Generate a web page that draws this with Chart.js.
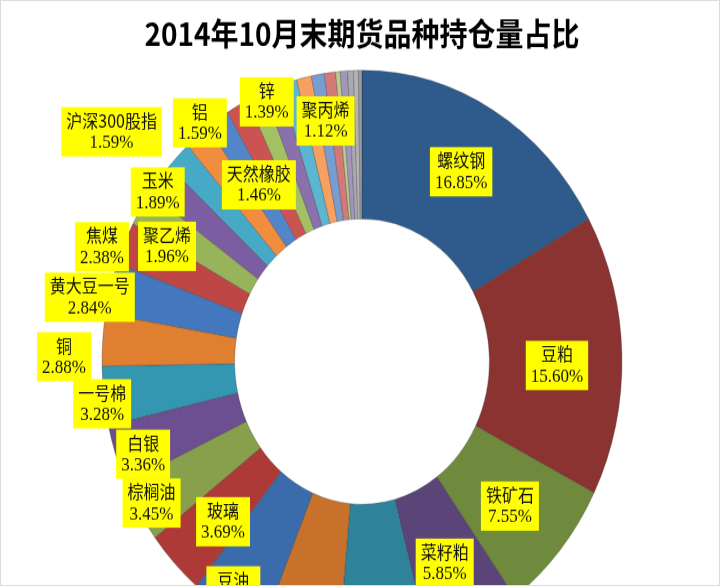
<!DOCTYPE html>
<html>
<head>
<meta charset="utf-8">
<script src="https://cdn.jsdelivr.net/npm/chart.js"></script>
<style>
  html, body { margin: 0; padding: 0; background: #fff; }
  #wrap { position: relative; width: 720px; height: 586px; overflow: hidden; background: #fff; }
  /* the source picture is stretched vertically, so the canvas is too */
  #myChart { position: absolute; left: 0; top: 0; transform-origin: 0 0; transform: scaleY(1.12); }
  #frame { position: absolute; left: 0; top: 0; right: 0; bottom: 0; border: 1px solid #dcdcdc; box-sizing: border-box; pointer-events: none; }
</style>
</head>
<body>
<div id="wrap">
  <canvas id="myChart" width="720" height="590"></canvas>
  <div id="frame"></div>
</div>
<script>
const title = '2014年10月末期货品种持仓量占比';

// names that cannot be read in the picture are left empty
const labels = [
  '螺纹钢', '豆粕', '铁矿石', '菜籽粕', '', '', '豆油', '玻璃', '棕榈油', '白银',
  '一号棉', '铜', '黄大豆一号', '焦煤', '聚乙烯', '玉米', '沪深300股指', '铝', '天然橡胶', '锌',
  '聚丙烯', '', '', '', '', '', '', '', '', '', ''
];
const shares = [
  16.85, 15.60, 7.55, 5.85, 5.62, 4.85, 4.66, 3.69, 3.45, 3.36,
  3.28, 2.88, 2.84, 2.38, 1.96, 1.89, 1.59, 1.59, 1.46, 1.39,
  1.12, 1.08, 1.02, 0.92, 0.80, 0.70, 0.28, 0.46, 0.36, 0.30, 0.22
];

const colors = [
  '#2e5b8c', '#8a3331', '#6f8a3d', '#5a4478', '#2e8299', '#c8712a', '#3a6bab', '#ae3a38', '#88a04b', '#6b4f91',
  '#3497b1', '#e07f2f', '#4478be', '#be4644', '#97b45a', '#7b5ea2', '#46a9c5', '#f08d3e', '#5385c8', '#cb5452',
  '#a3c163', '#8a70ac', '#5cb6cf', '#f8a060', '#7a9dd0', '#d27a78', '#b9ce8c', '#a195bb', '#a9a9b0', '#b4b4b4', '#9c9c9c'
];

// label box placement: [radius factor, angle nudge in degrees]
const labelPlace = [
  [0.755, 0], [0.75, 2.3], [0.755, 0.7], [0.762, 0.8], null, null, [0.93, 1], [0.767, -2], [0.944, 0], [0.90, -2],
  [1.01, -1.5], [1.146, -3.5], [1.07, -2.7], [1.075, -2.5], [0.848, -4], [0.978, -2.2], [1.245, -5.7], [1.03, 2], [0.725, 0.6], [0.964, 6.3],
  [0.838, 14.5]
];

const nameFont = '16px "Noto Sans CJK SC", "Liberation Serif"';
const pctFont = '17px "Liberation Serif", "Noto Sans CJK SC"';

const boxLabels = {
  id: 'boxLabels',
  afterDatasetsDraw(chart) {
    const ctx = chart.ctx;
    const meta = chart.getDatasetMeta(0);
    meta.data.forEach((arc, i) => {
      const place = labelPlace[i];
      if (!place || !labels[i]) return;
      const { x, y, startAngle, endAngle, outerRadius } =
        arc.getProps(['x', 'y', 'startAngle', 'endAngle', 'outerRadius'], true);
      const a = (startAngle + endAngle) / 2 + place[1] * Math.PI / 180;
      const cx = x + Math.cos(a) * outerRadius * place[0];
      const cy = y + Math.sin(a) * outerRadius * place[0];
      const line1 = labels[i];
      const line2 = shares[i].toFixed(2) + '%';

      ctx.save();
      ctx.font = nameFont;
      const w1 = ctx.measureText(line1).width;
      ctx.font = pctFont;
      const w2 = ctx.measureText(line2).width;
      const w = Math.max(w1, w2) + 10;
      const h = 44;
      ctx.fillStyle = '#ffff00';
      ctx.fillRect(cx - w / 2, cy - h / 2, w, h);
      ctx.fillStyle = '#111';
      ctx.textAlign = 'center';
      ctx.textBaseline = 'middle';
      ctx.font = nameFont;
      ctx.fillText(line1, cx, cy - 10);
      ctx.font = pctFont;
      ctx.fillText(line2, cx, cy + 10);
      ctx.restore();
    });
  }
};

const ctx = document.getElementById('myChart');

new Chart(ctx, {
  type: 'doughnut',
  data: {
    labels,
    datasets: [
      {
        data: shares,
        backgroundColor: colors,
        borderColor: 'rgba(40,40,40,0.35)',
        borderWidth: 0.8,
      },
    ],
  },
  options: {
    responsive: false,
    animation: false,
    devicePixelRatio: 1,
    radius: 260,
    cutout: '49%',
    layout: { padding: { left: 4, bottom: 2 } },
    plugins: {
      legend: { display: false },
      tooltip: { enabled: false },
      title: {
        display: true,
        text: title,
        color: '#000',
        font: { family: '"Noto Sans CJK SC"', size: 28, weight: 'bold', lineHeight: 1.2 },
        padding: { top: 14, bottom: 10 },
      },
    },
  },
  plugins: [boxLabels],
});
</script>
</body>
</html>
